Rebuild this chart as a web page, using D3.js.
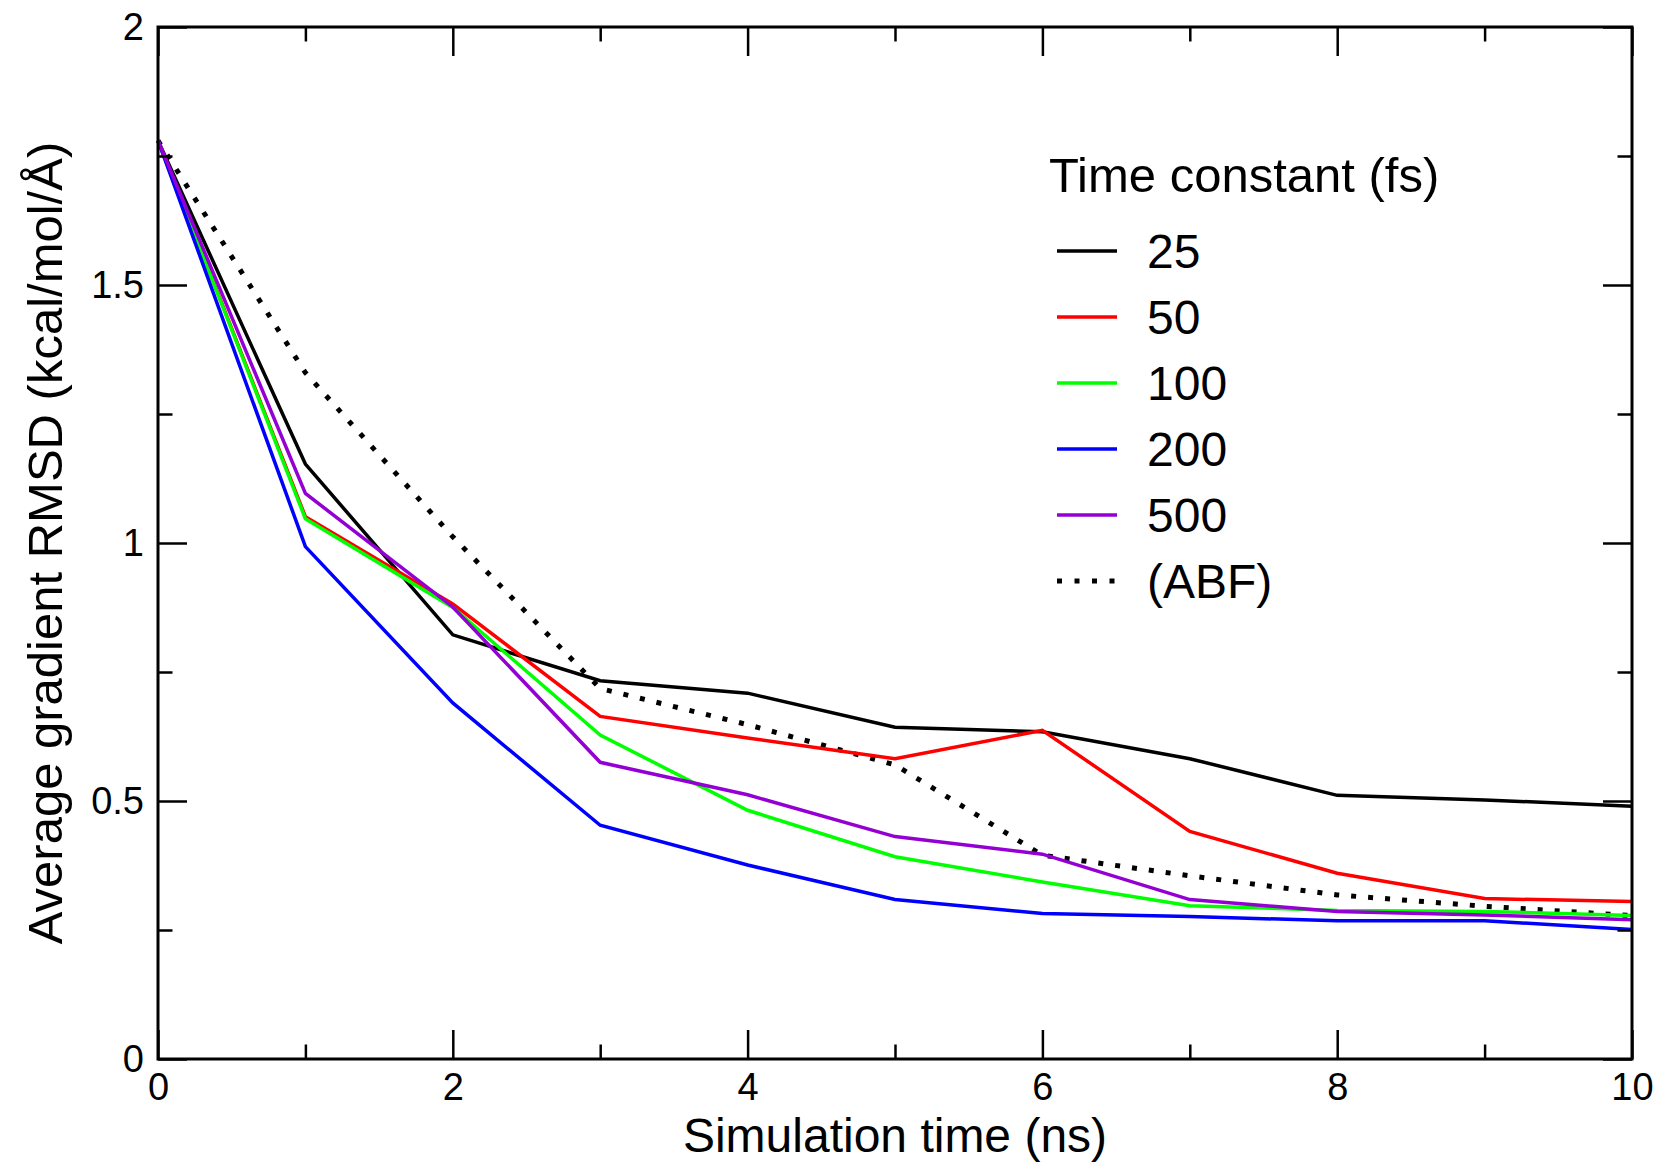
<!DOCTYPE html>
<html>
<head>
<meta charset="utf-8">
<script src="https://cdn.jsdelivr.net/npm/d3@7"></script>
<style>
  html, body { margin: 0; padding: 0; background: #fff; }
  text { font-family: "Liberation Sans", Arial, Helvetica, sans-serif; fill: #000; }
</style>
</head>
<body>
<svg id="chart"></svg>
<script>
// ── data ───────────────────────────────────────────────────
const times    = [0, 1, 2, 3, 4, 5, 6, 7, 8, 9, 10];               // ns
const rmsd25   = [1.78, 1.153, 0.822, 0.733, 0.709, 0.643, 0.634, 0.582, 0.511, 0.502, 0.490];
const rmsd50   = [1.78, 1.051, 0.882, 0.664, 0.622, 0.582, 0.637, 0.441, 0.360, 0.311, 0.305];
const rmsd100  = [1.78, 1.047, 0.875, 0.628, 0.482, 0.392, 0.343, 0.297, 0.288, 0.286, 0.278];
const rmsd200  = [1.78, 0.993, 0.690, 0.453, 0.376, 0.309, 0.282, 0.276, 0.268, 0.268, 0.251];
const rmsd500  = [1.78, 1.096, 0.876, 0.575, 0.512, 0.431, 0.397, 0.309, 0.286, 0.279, 0.270];
const rmsdABF  = [1.78, 1.330, 1.012, 0.718, 0.648, 0.570, 0.395, 0.355, 0.318, 0.296, 0.278];

const seriesNames  = ['25', '50', '100', '200', '500', '(ABF)'];
const seriesValues = [rmsd25, rmsd50, rmsd100, rmsd200, rmsd500, rmsdABF];
const seriesColors = ['#000000', '#ff0000', '#00ff00', '#0000ff', '#9400d3', '#000000'];

const xMajorTicks = [0, 2, 4, 6, 8, 10];
const xMinorTicks = [1, 3, 5, 7, 9];
const yMajorTicks = [0, 0.5, 1, 1.5, 2];
const yMinorTicks = [0.25, 0.75, 1.25, 1.75];

// ── layout ─────────────────────────────────────────────────
const W = 1664, H = 1167;
const M = { left: 158, right: 1632, top: 27, bottom: 1059 };
const MAJOR = 29, MINOR = 14.5;

const svg = d3.select('#chart').attr('width', W).attr('height', H);
svg.append('rect').attr('width', W).attr('height', H).attr('fill', '#fff');

const x = d3.scaleLinear().domain([0, 10]).range([M.left, M.right]);
const y = d3.scaleLinear().domain([0, 2]).range([M.bottom, M.top]);

// ── series ─────────────────────────────────────────────────
const line = d3.line().x((d, i) => x(times[i])).y(d => y(d));
const plot = svg.append('g');

// ABF first, then the time-constant runs in order
const drawOrder = [5, 0, 1, 2, 3, 4];
drawOrder.forEach(k => {
  const dotted = seriesNames[k] === '(ABF)';
  plot.append('path').datum(seriesValues[k])
    .attr('d', line)
    .attr('fill', 'none')
    .attr('stroke', seriesColors[k])
    .attr('stroke-width', dotted ? 5 : 3.5)
    .attr('stroke-linejoin', 'miter')
    .attr('stroke-dasharray', dotted ? '5,12' : null);
});

// ── axes (inward ticks on all four sides) ─────────────────
function styleAxis(g) {
  g.selectAll('path.domain').remove();
  g.selectAll('line').attr('stroke', '#000').attr('stroke-width', 2.5);
  g.selectAll('text').attr('font-size', '38px').attr('font-family', '"Liberation Sans", Arial, sans-serif');
}

const axes = [
  { gen: d3.axisBottom, scale: x, pos: `translate(0,${M.bottom})`, major: xMajorTicks, minor: xMinorTicks, labels: true },
  { gen: d3.axisTop,    scale: x, pos: `translate(0,${M.top})`,    major: xMajorTicks, minor: xMinorTicks, labels: false },
  { gen: d3.axisLeft,   scale: y, pos: `translate(${M.left},0)`,   major: yMajorTicks, minor: yMinorTicks, labels: true },
  { gen: d3.axisRight,  scale: y, pos: `translate(${M.right},0)`,  major: yMajorTicks, minor: yMinorTicks, labels: false }
];

axes.forEach(a => {
  const horiz = a.gen === d3.axisBottom || a.gen === d3.axisTop;
  svg.append('g').attr('transform', a.pos)
    .call(a.gen(a.scale).tickValues(a.minor).tickSize(-MINOR).tickFormat(''))
    .call(styleAxis);
  svg.append('g').attr('transform', a.pos)
    .call(a.gen(a.scale).tickValues(a.major).tickSize(-MAJOR)
      .tickPadding(14)
      .tickFormat(a.labels ? d3.format('') : ''))
    .call(styleAxis);
});

// frame
svg.append('rect')
  .attr('x', M.left).attr('y', M.top)
  .attr('width', M.right - M.left).attr('height', M.bottom - M.top)
  .attr('fill', 'none').attr('stroke', '#000').attr('stroke-width', 3);

// ── axis titles ────────────────────────────────────────────
svg.append('text')
  .attr('x', (M.left + M.right) / 2).attr('y', 1152)
  .attr('text-anchor', 'middle').attr('font-size', '48px')
  .text('Simulation time (ns)');

svg.append('text')
  .attr('transform', `translate(62,${(M.top + M.bottom) / 2}) rotate(-90)`)
  .attr('text-anchor', 'middle').attr('font-size', '49px')
  .text('Average gradient RMSD (kcal/mol/Å)');

// ── legend ─────────────────────────────────────────────────
const legend = svg.append('g').attr('transform', 'translate(1049,192)');
legend.append('text').attr('x', 0).attr('y', 0).attr('font-size', '49px')
  .text('Time constant (fs)');

seriesNames.forEach((name, i) => {
  const ly = 59 + i * 66;
  const dotted = name === '(ABF)';
  legend.append('line')
    .attr('x1', 8).attr('x2', 68).attr('y1', ly).attr('y2', ly)
    .attr('stroke', seriesColors[i])
    .attr('stroke-width', dotted ? 5 : 3.5)
    .attr('stroke-dasharray', dotted ? '5,12.5' : null);
  legend.append('text').attr('x', 98).attr('y', ly).attr('dy', '0.36em')
    .attr('font-size', '48px').text(name);
});
</script>
</body>
</html>
